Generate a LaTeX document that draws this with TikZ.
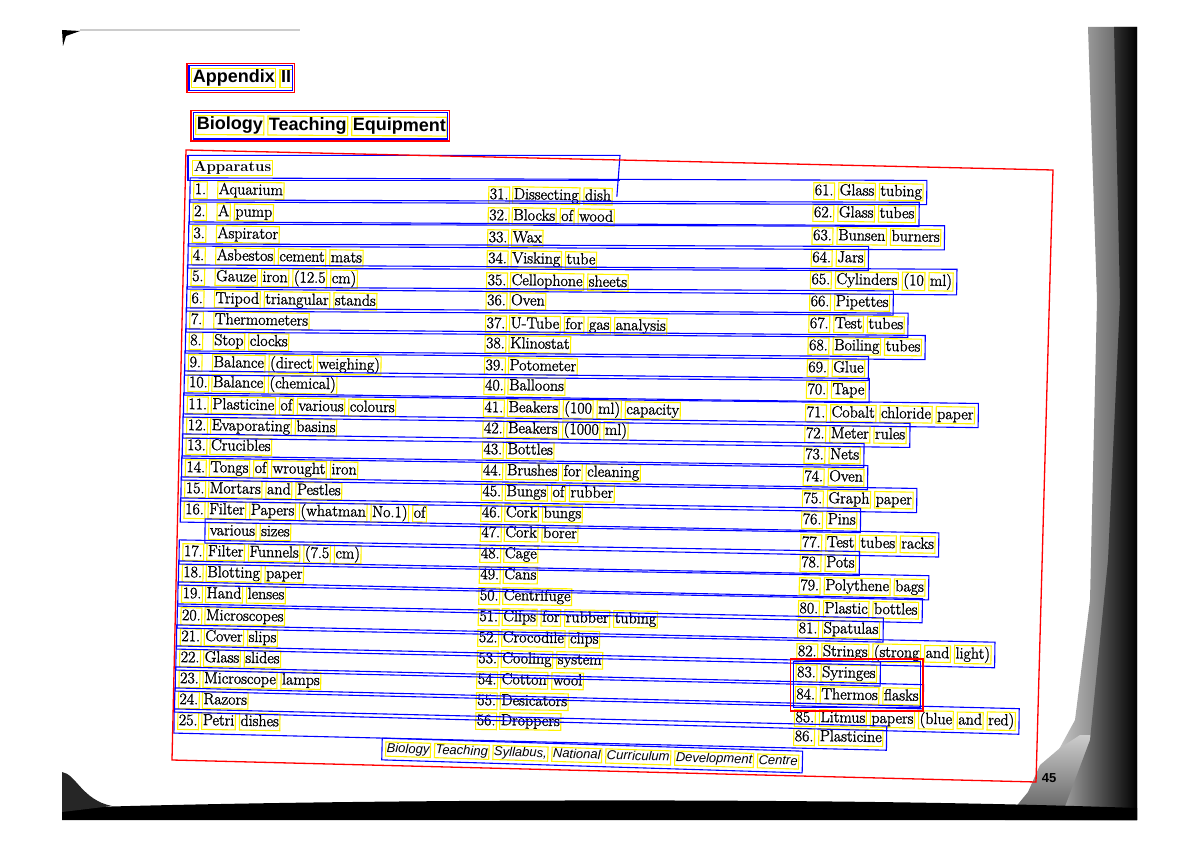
\documentclass[tikz,border=0pt]{standalone}
\usepackage{fontspec}
\usetikzlibrary{calc}
\newfontfamily\headfont{Liberation Sans}
\newfontface\itemfont{Latin Modern Roman}[FakeBold=1.5]
\definecolor{ocryellow}{RGB}{255,242,0}
\definecolor{ocrblue}{RGB}{0,0,255}
\definecolor{ocrred}{RGB}{255,0,0}
\newcommand\ocrbox[1]{{\setlength\fboxsep{0.5pt}\setlength\fboxrule{1.1pt}\fcolorbox{ocryellow}{white}{\vphantom{Ay}#1}}}
\makeatletter
\def\ocr@stop{\ocr@stop}
\def\ocrwords#1{\expandafter\ocr@word#1 \ocr@stop{} }
\def\ocr@word#1 {\ifx\ocr@stop#1\else\ocrbox{#1}\hspace{3pt}\expandafter\ocr@word\fi}
\makeatother
\tikzset{
  item/.style={anchor=west, inner sep=0pt, rotate=-1, font=\itemfont\fontsize{16}{18}\selectfont},
  head/.style={anchor=west, inner sep=0pt, font={\headfont\bfseries\fontsize{18}{20}\selectfont}},
  ocrline/.style={draw=ocrblue, line width=1.1pt},
  ocrblock/.style={draw=ocrred, line width=1.3pt}
}

\begin{document}
\begin{tikzpicture}[x=1pt,y=-1pt]
                \useasboundingbox (0,0) rectangle (1200,848);
                % scan edges
                \shade[left color=white, right color=black!70] (1088,27) -- (1137,27) -- (1137,820) -- (1020,820) -- (1045,775) -- (1075,720) -- (1090,600) -- (1097,300) -- cycle;
                \shade[top color=black!20, bottom color=black!65] (1080,735) -- (1137,735) -- (1137,820) -- (1005,820) -- (1028,792) -- (1040,765) -- (1060,748) -- cycle;
                \shade[left color=black!35, right color=black] (1114,27) -- (1137,27) -- (1137,820) -- (1060,820) -- (1090,740) -- (1108,560) -- (1120,300) -- cycle;
                \fill[black] (62,808) .. controls (300,800) and (800,796) .. (1137,808) -- (1137,820) -- (62,820) -- cycle;
                \fill[black!85] (62,772) .. controls (76,774) and (82,800) .. (112,806) -- (62,812) -- cycle;
                \fill[black] (62,30) -- (80,31) -- (66,36) -- (63,46) -- cycle;
                \fill[black!20] (80,29) rectangle (300,31);
                \node[font={\headfont\bfseries\fontsize{13}{15}\selectfont}] (pg) at (1049,778) {45};
                % headings
                \node[head] (appx) at (191,78) {\ocrwords{Appendix II}};
                \node[head, rotate=-0.4] (ttl) at (195,125) {\ocrwords{Biology Teaching Equipment}};
                \node[anchor=west, inner sep=0pt, font=\fontsize{15}{17}\selectfont\bfseries] (app) at (192,168) {\ocrbox{Apparatus}};
                % apparatus list
                \foreach \n/\y/\t in {1/190/Aquarium,
                  2/212/A pump,
                  3/234/Aspirator,
                  4/256/Asbestos cement mats,
                  5/277/Gauze iron (12.5 cm),
                  6/299/Tripod triangular stands,
                  7/320/Thermometers,
                  8/341/Stop clocks,
                  9/363/Balance (direct weighing),
                  10/383/Balance (chemical),
                  11/405/Plasticine of various colours,
                  12/426/Evaporating basins,
                  13/446/Crucibles,
                  14/468/Tongs of wrought iron,
                  15/489/Mortars and Pestles,
                  16/510/Filter Papers (whatman No.1) of,
                  17/552/Filter Funnels (7.5 cm),
                  18/573/Blotting paper,
                  19/594/Hand lenses,
                  20/616/Microscopes,
                  21/637/Cover slips,
                  22/658/Glass slides,
                  23/679/Microscope lamps,
                  24/700/Razors,
                  25/721/Petri dishes}{
                  \pgfmathsetmacro\xn{193-(\y-190)*0.030}
                  \node[item] (n\n) at (\xn,\y) {\ocrbox{\n.}};
                  \node[item] (t\n) at (\xn+24,\y) {\ocrwords{\t}};
                }
                \node[item] (t16b) at (208,531) {\ocrwords{various sizes}};
                \foreach \n/\y/\t in {31/195/Dissecting dish,
                  32/216/Blocks of wood,
                  33/238/Wax,
                  34/259/Visking tube,
                  35/281/Cellophone sheets,
                  36/301/Oven,
                  37/324/U-Tube for gas analysis,
                  38/344/Klinostat,
                  39/366/Potometer,
                  40/386/Balloons,
                  41/408/Beakers (100 ml) capacity,
                  42/429/Beakers (1000 ml),
                  43/450/Bottles,
                  44/471/Brushes for cleaning,
                  45/492/Bungs of rubber,
                  46/513/Cork bungs,
                  47/533/Cork borer,
                  48/554/Cage,
                  49/575/Cans,
                  50/596/Centrifuge,
                  51/617/Clips for rubber tubing,
                  52/638/Crocodile clips,
                  53/659/Cooling system,
                  54/680/Cotton wool,
                  55/701/Desicators,
                  56/721/Droppers}{
                  \pgfmathsetmacro\xn{488-(\y-195)*0.0247}
                  \node[item] (n\n) at (\xn,\y) {\ocrbox{\n.}};
                  \node[item] (t\n) at (\xn+24,\y) {\ocrwords{\t}};
                }
                \foreach \n/\y/\t in {61/191/Glass tubing,
                  62/213/Glass tubes,
                  63/236/Bunsen burners,
                  64/258/Jars,
                  65/280/Cylinders (10 ml),
                  66/302/Pipettes,
                  67/324/Test tubes,
                  68/346/Boiling tubes,
                  69/368/Glue,
                  70/390/Tape,
                  71/413/Cobalt chloride paper,
                  72/434/Meter rules,
                  73/455/Nets,
                  74/477/Oven,
                  75/499/Graph paper,
                  76/520/Pins,
                  77/543/Test tubes racks,
                  78/563/Pots,
                  79/586/Polythene bags,
                  80/609/Plastic bottles,
                  81/629/Spatulas,
                  82/652/Strings (strong and light),
                  83/673/Syringes,
                  84/695/Thermos flasks,
                  85/718/Litmus papers (blue and red),
                  86/737/Plasticine}{
                  \pgfmathsetmacro\xn{813-(\y-191)*0.0366}
                  \node[item] (n\n) at (\xn,\y) {\ocrbox{\n.}};
                  \node[item] (t\n) at (\xn+25,\y) {\ocrwords{\t}};
                }
                \node[head, font={\headfont\itshape\fontsize{13}{15}\selectfont}, rotate=-1.8] (foot) at (385,749) {\ocrwords{Biology Teaching Syllabus, National Curriculum Development Centre}};
                % line boxes
                \foreach \i in {1,...,16}{
                  \pgfmathtruncatemacro\j{\i+60}
                  \draw[ocrline] ($(n\i.north west)+(-3,-3)$) -- ($(t\j.north east)+(3,-3)$) -- ($(t\j.south east)+(3,3)$) -- ($(n\i.south west)+(-3,3)$) -- cycle;
                }
                \draw[ocrline] ($(t16b.north west)+(-3,-3)$) -- ($(t77.north east)+(3,-3)$) -- ($(t77.south east)+(3,3)$) -- ($(t16b.south west)+(-3,3)$) -- cycle;
                \foreach \i in {17,...,25}{
                  \pgfmathtruncatemacro\j{\i+61}
                  \draw[ocrline] ($(n\i.north west)+(-3,-3)$) -- ($(t\j.north east)+(3,-3)$) -- ($(t\j.south east)+(3,3)$) -- ($(n\i.south west)+(-3,3)$) -- cycle;
                }
                \draw[ocrline] ($(app.north west)+(-4,-4)$) -- ($(app.north west)+(428,-4)$) -- ($(t31.east)+(4,0)$);
                \draw[ocrline] ($(app.north west)+(-4,-4)$) -- ($(app.south west)+(-4,4)$) -- ($(app.south west)+(428,4)$);
                \draw[ocrline] ($(appx.north west)+(-2,-2)$) rectangle ($(appx.south east)+(0,2)$);
                \draw[ocrline] ($(ttl.north west)+(-2,-2)$) rectangle ($(ttl.south east)+(0,2)$);
                \draw[ocrline] ($(foot.north west)+(-3,-3)$) -- ($(foot.north east)+(3,-3)$) -- ($(foot.south east)+(3,3)$) -- ($(foot.south west)+(-3,3)$) -- cycle;
                \draw[ocrline] ($(n83.north west)+(-2,-2)$) rectangle ($(t84.south east)+(0,2)$);
                % blocks
                \draw[ocrblock] ($(appx.north west)+(-4,-4)$) rectangle ($(appx.south east)+(2,4)$);
                \draw[ocrblock] ($(ttl.north west)+(-4,-4)$) rectangle ($(ttl.south east)+(2,4)$);
                \draw[ocrblock] (186,150) -- (1053,170) -- (1036,782) -- (172,760) -- cycle;
                \draw[ocrblock, line width=1.8pt] ($(n83.north west)+(-5,-5)$) rectangle ($(t84.south east)+(3,5)$);
              \end{tikzpicture}
\end{document}
